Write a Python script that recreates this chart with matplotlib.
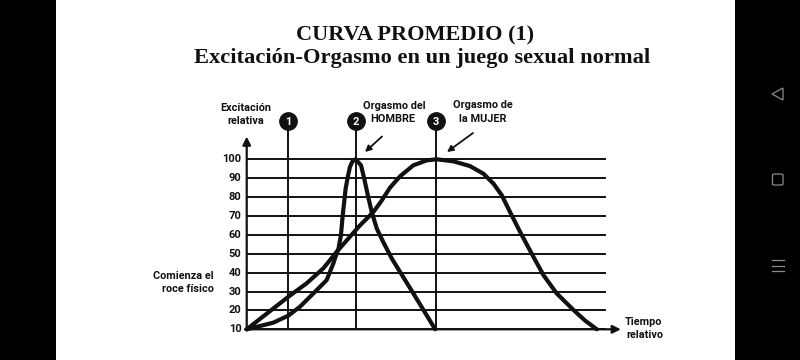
import numpy as np
import matplotlib.pyplot as plt
from matplotlib.patches import Rectangle, Polygon, FancyBboxPatch

# data (tiempo relativo 0-100, excitacion relativa 10-100)
tiempo_hombre = [0.0, 7.4, 11.6, 14.9, 18.6, 22.3, 24.2, 24.6, 25.6, 26.3, 26.7,
                 27.2, 27.6, 28.2, 28.8, 29.5, 30.4, 31.9, 32.8, 33.8, 34.9,
                 36.3, 38.1, 40.5, 46.5, 52.6]
excit_hombre = [10, 13.5, 17.2, 22, 29, 36, 45, 47.4, 52.7, 59.8, 68.6,
                77.4, 84.4, 90.6, 95.9, 98.8, 100, 96.8, 89.7, 80.9, 72,
                63.3, 56.2, 47.4, 29, 10]

tiempo_mujer = [0.0, 11.6, 16.7, 21.4, 25.1, 28.8, 31.6, 35.3, 37.4, 40.0, 42.8,
                46.5, 50.2, 53.0, 57.7, 62.3, 66.1, 68.9, 71.2, 73.5, 76.3,
                80.0, 82.8, 86.5, 91.2, 94.5, 96.7, 97.7]
excit_mujer = [10, 27.2, 34.3, 42.3, 51, 59, 65, 72, 77.4, 85, 91,
               96.8, 99.4, 100, 98.9, 96.4, 92.3, 87, 80.9, 72, 61.5,
               48.4, 38.7, 29, 20.2, 14.5, 11.4, 10]

niveles = [10, 20, 30, 40, 50, 60, 70, 80, 90, 100]
momentos = [11.6, 30.4, 52.9]
etiquetas_momentos = ['1', '2', '3']

titulo1 = 'CURVA PROMEDIO (1)'
titulo2 = 'Excitación-Orgasmo en un juego sexual normal'

W, H = 800, 360
fig = plt.figure(figsize=(8, 3.6), dpi=100)
fig.patch.set_facecolor('white')
ax = fig.add_axes([0, 0, 1, 1])
# limits chosen so the grid sits where it does in the scan
ax.set_xlim(-68.85, 154.4)
ax.set_ylim(-6.25, 184.3)
ax.axis('off')

def fx(px):
    return px / W

def fy(py):
    return 1 - py / H

ink = '#111111'
sans = ['Roboto', 'DejaVu Sans']

# horizontal grid
for n in niveles:
    ax.plot([0, 100], [n, n], color=ink, lw=1.4, zorder=1)

# vertical moment lines + circled numbers
for m, lab in zip(momentos, etiquetas_momentos):
    ax.plot([m, m], [10, 120], color=ink, lw=1.4, zorder=1)
    ax.plot(m, 120, 'o', ms=12.5, color=ink, zorder=4)
    ax.text(m, 119.6, lab, color='white', fontsize=8, fontweight='bold',
            ha='center', va='center', family=sans, zorder=5)

# axes with arrows
ax.annotate('', xy=(0, 112), xytext=(0, 9.5),
            arrowprops=dict(arrowstyle='-|>', color=ink, lw=1.6,
                            mutation_scale=12, shrinkA=0, shrinkB=0))
ax.annotate('', xy=(104.4, 10), xytext=(-0.5, 10),
            arrowprops=dict(arrowstyle='-|>', color=ink, lw=1.6,
                            mutation_scale=12, shrinkA=0, shrinkB=0))

# curves
ax.plot(tiempo_hombre, excit_hombre, color=ink, lw=3,
        solid_joinstyle='round', solid_capstyle='round', zorder=3)
ax.plot(tiempo_mujer, excit_mujer, color=ink, lw=3,
        solid_joinstyle='round', solid_capstyle='round', zorder=3)

# tick labels
for n in niveles:
    fig.text(fx(241.5), fy(329.3 - (n - 10) * 1.889), str(n), ha='right',
             va='center', fontsize=8, fontweight='bold', family=sans, color=ink)

# labels
def etiqueta(px, py, s, ha='center'):
    fig.text(fx(px), fy(py), s, ha=ha, va='center', fontsize=7.8,
             fontweight='bold', family=sans, color=ink)

etiqueta(246, 108, 'Excitación')
etiqueta(246, 121, 'relativa')
etiqueta(394, 106, 'Orgasmo del')
etiqueta(393, 119, 'HOMBRE')
etiqueta(483, 105, 'Orgasmo de')
etiqueta(483, 119, 'la MUJER')
etiqueta(214, 276, 'Comienza el', ha='right')
etiqueta(214, 289, 'roce físico', ha='right')
etiqueta(625, 322, 'Tiempo', ha='left')
etiqueta(626, 335, 'relativo', ha='left')

# pointer arrows
fig.add_artist(plt.Annotation('', xy=(fx(365), fy(152)), xytext=(fx(382), fy(136.5)),
               xycoords='figure fraction', textcoords='figure fraction',
               arrowprops=dict(arrowstyle='-|>', color=ink, lw=1.3,
                               mutation_scale=9, shrinkA=0, shrinkB=0)))
fig.add_artist(plt.Annotation('', xy=(fx(447), fy(152)), xytext=(fx(473), fy(133)),
               xycoords='figure fraction', textcoords='figure fraction',
               arrowprops=dict(arrowstyle='-|>', color=ink, lw=1.3,
                               mutation_scale=9, shrinkA=0, shrinkB=0)))

# title
serif = ['Liberation Serif', 'DejaVu Serif']
fig.text(fx(415), fy(35), titulo1, ha='center', va='center', fontsize=16,
         fontweight='bold', family=serif, color=ink)
fig.text(fx(422), fy(58), titulo2, ha='center', va='center', fontsize=16.2,
         fontweight='bold', family=serif, color=ink)

# phone screen borders and nav buttons
fig.patches.append(Rectangle((0, 0), fx(56), 1, transform=fig.transFigure,
                             facecolor='black', edgecolor='none'))
fig.patches.append(Rectangle((fx(735), 0), 1 - fx(735), 1, transform=fig.transFigure,
                             facecolor='black', edgecolor='none'))
gris = '#8c8c8c'
fig.patches.append(Polygon([(fx(772), fy(94)), (fx(783), fy(88)), (fx(783), fy(100))],
                           closed=True, transform=fig.transFigure, fill=False,
                           edgecolor=gris, lw=0.9))
fig.patches.append(FancyBboxPatch((fx(772.5), fy(185)), fx(10.5), 11 / H,
                                  boxstyle='round,pad=0,rounding_size=0.003',
                                  transform=fig.transFigure, fill=False,
                                  edgecolor=gris, lw=0.9))
for yy in [260, 265.5, 271]:
    fig.add_artist(plt.Line2D([fx(772), fx(784)], [fy(yy), fy(yy)],
                              transform=fig.transFigure, color=gris, lw=0.9))

fig.savefig('out.png', dpi=100, facecolor='white')
